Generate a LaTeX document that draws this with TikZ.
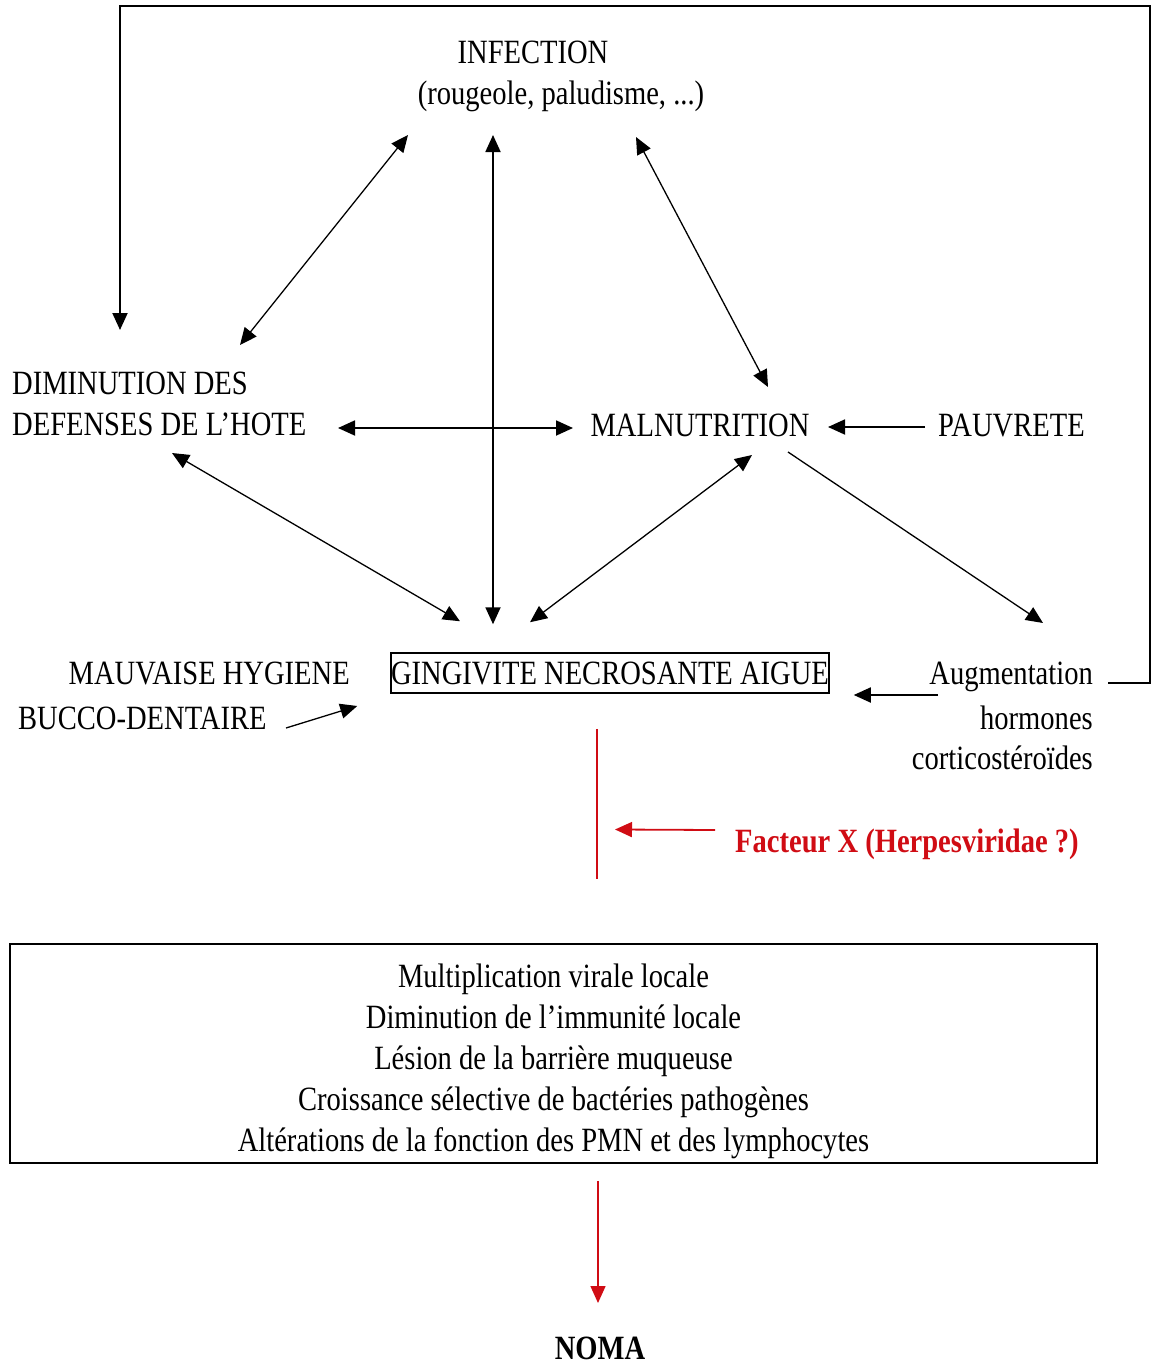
\documentclass[tikz,border=0pt]{standalone}
\usepackage{fontspec}
\setmainfont{Liberation Serif}[FakeStretch=0.84]
\usetikzlibrary{arrows.meta}
\definecolor{mred}{RGB}{208,12,20}
\tikzset{
  lbl/.style={inner sep=0pt, font=\fontsize{34}{41}\selectfont},
  conn/.style={line width=1.3pt},
  hconn/.style={line width=1.8pt},
  tip/.style={-{Triangle[length=17pt,width=15pt]}},
  tips/.style={{Triangle[length=17pt,width=15pt]}-{Triangle[length=17pt,width=15pt]}},
}
\begin{document}
\begin{tikzpicture}[x=1pt,y=-1pt]
\useasboundingbox (0,0) rectangle (1151,1368);
% nodes
\node[lbl, anchor=base] (inf) at (533,63) {INFECTION};
\node[lbl, anchor=base] (rou) at (561,104) {(rougeole, paludisme, ...)};
\node[lbl, anchor=base west] (dim) at (12,394) {DIMINUTION DES};
\node[lbl, anchor=base west] (dim2) at (12,435) {DEFENSES DE L’HOTE};
\node[lbl, anchor=base] (mal) at (700,436) {MALNUTRITION};
\node[lbl, anchor=base west] (pau) at (938,436) {PAUVRETE};
\node[lbl, anchor=base east] (mau) at (350,684) {MAUVAISE HYGIENE};
\node[lbl, anchor=base west] (buc) at (18,729) {BUCCO-DENTAIRE};
\node[lbl, draw, line width=1.5pt, minimum width=438pt, minimum height=40pt, text height=22.5pt, text depth=0pt] (gna) at (610,673) {GINGIVITE NECROSANTE AIGUE};
\node[lbl, anchor=base east] (aug) at (1093,684) {Augmentation};
\node[lbl, anchor=base east] (hor) at (1093,729) {hormones};
\node[lbl, anchor=base east] (cor) at (1093,769) {corticostéroïdes};
\node[lbl, anchor=base west, text=mred, font=\fontsize{34}{41}\selectfont\bfseries] (fac) at (735,852) {Facteur X (Herpesviridae ?)};
\node[draw, line width=1.8pt, minimum width=1087pt, minimum height=219pt, inner sep=0pt] (mechbox) at (553.5,1053.5) {};
\node[lbl, align=center] (mech) at (553.5,1061.5) {Multiplication virale locale\\Diminution de l’immunité locale\\Lésion de la barrière muqueuse\\Croissance sélective de bactéries pathogènes\\Altérations de la fonction des PMN et des lymphocytes};
\node[lbl, anchor=base, font=\fontsize{34}{41}\selectfont\bfseries] (noma) at (600,1359) {NOMA};
% black connectors
\draw[conn, tips] ([shift={(-125,72)}]inf.base) -- ([shift={(228,-49)}]dim.base west);
\draw[hconn, tips] ([shift={(-40,72)}]inf.base) -- ([shift={(-117,-28)}]gna.north);
\draw[conn, tips] ([shift={(103,74)}]inf.base) -- ([shift={(68,-49)}]mal.base);
\draw[hconn, tips] ([shift={(326,-7)}]dim2.base west) -- ([shift={(-127,-8)}]mal.base);
\draw[conn, tips] ([shift={(160,18)}]dim2.base west) -- ([shift={(-150,-31)}]gna.north);
\draw[conn, tips] ([shift={(52,19)}]mal.base) -- ([shift={(-80,-30)}]gna.north);
\draw[conn, tip] ([shift={(88,16)}]mal.base) -- ([shift={(-50,-61)}]aug.base east);
\draw[hconn, tip] ([shift={(-13,-9)}]pau.base west) -- ([shift={(128,-9)}]mal.base);
\draw[hconn, tip] ([shift={(-155,11)}]aug.base east) -- ([shift={(24,22)}]gna.east);
\draw[conn, tip] ([shift={(268,-1)}]buc.base west) -- ([shift={(-33,33)}]gna.west);
\draw[line width=2pt, tip] ([shift={(15,-1)}]aug.base east) -- ++(42,0) -- ++(0,-677) -| ([shift={(108,-64)}]dim.base west);
% red connectors
\draw[mred, line width=1.5pt] ([shift={(-13,35)}]gna.south) -- coordinate[pos=0.67] (xline) ([shift={(43.5,-64)}]mechbox.north);
\draw[mred, hconn, tip] ([shift={(-20,-22)}]fac.base west) -- ([xshift=18pt]xline);
\draw[mred, line width=1.5pt, tip] ([shift={(44.5,17)}]mechbox.south) -- ([shift={(-2,-56)}]noma.base);
\end{tikzpicture}
\end{document}
